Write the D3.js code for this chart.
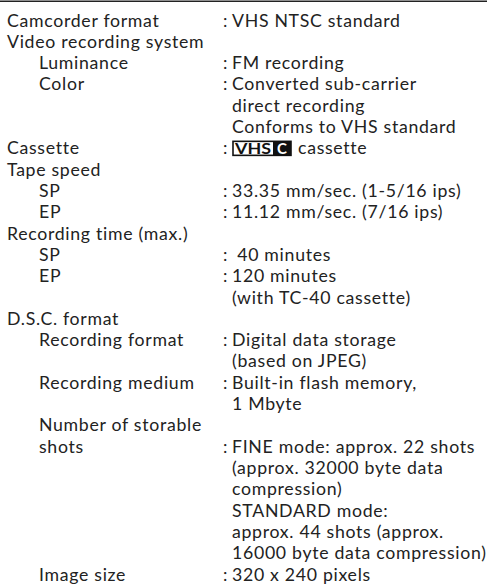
<!DOCTYPE html>
<html>
<head>
<meta charset="utf-8">
<script src="https://cdn.jsdelivr.net/npm/d3@7"></script>
<style>
  html, body { margin: 0; padding: 0; background: #fff; }
  svg { display: block; }
  text { font-family: Lato, "Open Sans", sans-serif; fill: #222; }
</style>
</head>
<body>
<svg id="chart" width="487" height="584"></svg>
<script>
// ---- data ----
const labels = [
  "Camcorder format", "Video recording system", "Luminance", "Color",
  "Cassette", "Tape speed", "SP", "EP", "Recording time (max.)", "SP", "EP",
  "D.S.C. format", "Recording format", "Recording medium",
  "Number of storable", "shots", "Image size"
];
const labelLevels = [0, 0, 1, 1, 0, 0, 1, 1, 0, 1, 1, 0, 1, 1, 1, 1, 1];
const valueLines = [
  ["VHS NTSC standard"],
  [],
  ["FM recording"],
  ["Converted sub-carrier", "direct recording", "Conforms to VHS standard"],
  ["@VHSC cassette"],
  [],
  ["33.35 mm/sec. (1-5/16 ips)"],
  ["11.12 mm/sec. (7/16 ips)"],
  [],
  ["\u00a040 minutes"],
  ["120 minutes", "(with TC-40 cassette)"],
  [],
  ["Digital data storage", "(based on JPEG)"],
  ["Built-in flash memory,", "1 Mbyte"],
  [],
  ["FINE mode: approx. 22 shots", "(approx. 32000 byte data", "compression)",
   "STANDARD mode:", "approx. 44 shots (approx.", "16000 byte data compression)"],
  ["320 x 240 pixels"]
];
const logoText = "VHS";
const logoBoxText = "C";

// ---- layout ----
const W = 487, H = 584;
const fontSize = 17.7;
const spacing = 0.7;
const svg = d3.select("#chart");

let lineIdx = 0;
const rows = labels.map((lab, i) => {
  const start = lineIdx;
  const n = Math.max(1, valueLines[i].length);
  lineIdx += n;
  return { label: lab, level: labelLevels[i], values: valueLines[i], start };
});
const totalLines = lineIdx;

const y = d3.scaleLinear().domain([0, totalLines - 1]).range([26.5, 580.5]);
const x = d3.scaleOrdinal().domain(["l0", "l1", "colon", "value"]).range([7, 39, 223, 232]);

// top rule
svg.append("line")
  .attr("x1", 0).attr("x2", W)
  .attr("y1", 1.2).attr("y2", 1.2)
  .attr("stroke", "#222").attr("stroke-width", 1.6);

const g = svg.selectAll("g.row").data(rows).join("g").attr("class", "row");

g.append("text")
  .attr("x", d => x(d.level === 0 ? "l0" : "l1"))
  .attr("y", d => y(d.start))
  .attr("font-size", fontSize)
  .attr("letter-spacing", spacing)
  .text(d => d.label);

g.filter(d => d.values.length > 0).append("text")
  .attr("x", x("colon"))
  .attr("y", d => y(d.start))
  .attr("font-size", fontSize)
  .text(":");

g.each(function(d) {
  const sel = d3.select(this);
  d.values.forEach((v, k) => {
    const yy = y(d.start + k);
    if (v.startsWith("@VHSC")) {
      const lx = x("value") + 1, lh = 14, lw = 58;
      const ly = yy - 13;
      const lg = sel.append("g");
      lg.append("rect").attr("x", lx).attr("y", ly).attr("width", lw).attr("height", lh)
        .attr("fill", "#fff").attr("stroke", "#111").attr("stroke-width", 1.6);
      lg.append("text").attr("x", lx + 2).attr("y", ly + lh - 1.5)
        .attr("font-family", "'Liberation Sans Narrow', 'DejaVu Sans Condensed', sans-serif")
        .attr("font-weight", "bold").attr("font-size", 16)
        .attr("textLength", 36).attr("lengthAdjust", "spacingAndGlyphs")
        .style("fill", "#111").text(logoText);
      lg.append("rect").attr("x", lx + 40).attr("y", ly).attr("width", lw - 40).attr("height", lh)
        .attr("fill", "#111");
      lg.append("text").attr("x", lx + 49).attr("y", ly + lh - 1.5)
        .attr("text-anchor", "middle")
        .attr("font-family", "'Liberation Sans', sans-serif")
        .attr("font-weight", "bold").attr("font-size", 15)
        .style("fill", "#fff").text(logoBoxText);
      sel.append("text").attr("x", lx + lw + 7).attr("y", yy)
        .attr("font-size", fontSize).attr("letter-spacing", spacing)
        .text(v.replace("@VHSC ", ""));
    } else {
      sel.append("text")
        .attr("x", x("value"))
        .attr("y", yy)
        .attr("font-size", fontSize)
        .attr("letter-spacing", spacing)
        .attr("xml:space", "preserve")
        .text(v);
    }
  });
});
</script>
</body>
</html>
